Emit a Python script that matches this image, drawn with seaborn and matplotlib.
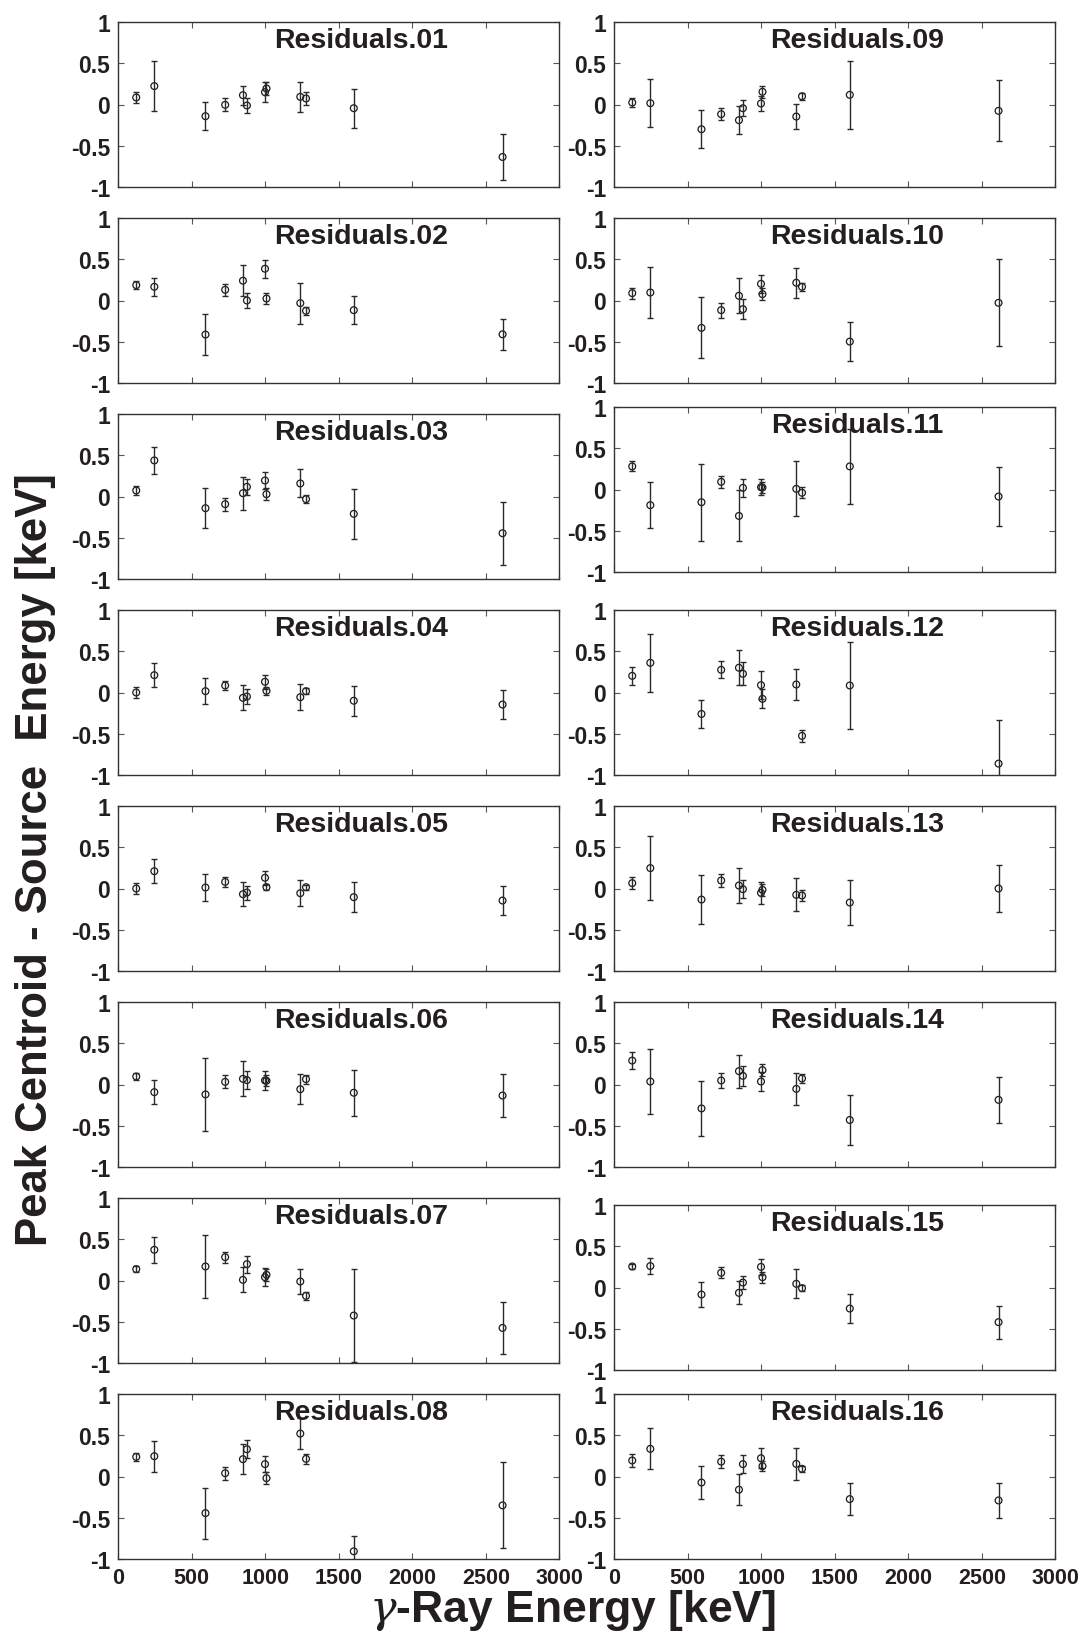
import numpy as np
import pandas as pd
import matplotlib
matplotlib.use("Agg")
import matplotlib.pyplot as plt
import seaborn as sns

# ---------------- data ----------------
energy = [122, 245, 593, 727, 848, 875, 998, 1008, 1238, 1277, 1602, 2614]

res01 = [0.085, 0.223, -0.142, -0.004, 0.113, -0.012, 0.150, 0.194, 0.093, 0.073, -0.045, -0.636]
err01 = [0.070, 0.300, 0.170, 0.080, 0.113, 0.085, 0.120, 0.073, 0.180, 0.073, 0.237, 0.280]
res02 = [0.186, 0.166, -0.413, 0.130, 0.240, 0.000, 0.385, 0.024, -0.032, -0.125, -0.117, -0.410]
err02 = [0.045, 0.110, 0.250, 0.070, 0.190, 0.095, 0.110, 0.070, 0.250, 0.045, 0.170, 0.190]
res03 = [0.073, 0.437, -0.142, -0.093, 0.040, 0.117, 0.194, 0.028, 0.158, -0.032, -0.210, -0.445]
err03 = [0.057, 0.160, 0.240, 0.080, 0.200, 0.100, 0.100, 0.070, 0.170, 0.045, 0.300, 0.380]
res04 = [0.000, 0.210, 0.016, 0.085, -0.065, -0.049, 0.130, 0.020, -0.057, 0.016, -0.100, -0.146]
err04 = [0.070, 0.145, 0.155, 0.057, 0.150, 0.087, 0.087, 0.045, 0.155, 0.035, 0.180, 0.175]
res05 = [0.000, 0.210, 0.012, 0.080, -0.069, -0.049, 0.130, 0.016, -0.057, 0.016, -0.105, -0.146]
err05 = [0.070, 0.145, 0.160, 0.063, 0.146, 0.085, 0.083, 0.040, 0.155, 0.030, 0.180, 0.175]
res06 = [0.097, -0.093, -0.120, 0.032, 0.069, 0.053, 0.049, 0.045, -0.057, 0.065, -0.100, -0.134]
err06 = [0.040, 0.145, 0.440, 0.080, 0.210, 0.107, 0.113, 0.065, 0.185, 0.055, 0.280, 0.260]
res07 = [0.138, 0.372, 0.170, 0.283, 0.008, 0.198, 0.040, 0.069, -0.012, -0.186, -0.425, -0.575]
err07 = [0.040, 0.160, 0.380, 0.065, 0.150, 0.105, 0.110, 0.073, 0.150, 0.045, 0.567, 0.320]
res08 = [0.238, 0.246, -0.444, 0.040, 0.210, 0.330, 0.150, -0.020, 0.520, 0.214, -0.907, -0.350]
err08 = [0.050, 0.190, 0.310, 0.080, 0.183, 0.110, 0.100, 0.073, 0.190, 0.057, 0.190, 0.520]
res09 = [0.024, 0.016, -0.300, -0.117, -0.190, -0.045, 0.012, 0.154, -0.146, 0.100, 0.117, -0.077]
err09 = [0.060, 0.290, 0.230, 0.075, 0.170, 0.100, 0.093, 0.070, 0.150, 0.040, 0.410, 0.370]
res10 = [0.089, 0.097, -0.332, -0.117, 0.057, -0.105, 0.202, 0.077, 0.215, 0.166, -0.498, -0.028]
err10 = [0.065, 0.310, 0.370, 0.090, 0.210, 0.120, 0.110, 0.073, 0.180, 0.045, 0.235, 0.525]
res11 = [0.280, -0.190, -0.154, 0.093, -0.320, 0.020, 0.028, 0.024, 0.008, -0.040, 0.280, -0.085]
err11 = [0.060, 0.275, 0.465, 0.070, 0.310, 0.110, 0.100, 0.070, 0.335, 0.065, 0.450, 0.355]
res12 = [0.202, 0.360, -0.260, 0.275, 0.300, 0.227, 0.089, -0.077, 0.097, -0.526, 0.085, -0.862]
err12 = [0.113, 0.350, 0.170, 0.105, 0.210, 0.137, 0.170, 0.115, 0.190, 0.075, 0.525, 0.525]
res13 = [0.065, 0.247, -0.134, 0.097, 0.036, -0.008, -0.053, -0.016, -0.077, -0.085, -0.170, 0.000]
err13 = [0.077, 0.390, 0.300, 0.080, 0.215, 0.110, 0.130, 0.073, 0.200, 0.065, 0.275, 0.280]
res14 = [0.290, 0.036, -0.290, 0.049, 0.162, 0.105, 0.036, 0.174, -0.053, 0.073, -0.430, -0.186]
err14 = [0.105, 0.390, 0.335, 0.087, 0.200, 0.120, 0.113, 0.070, 0.190, 0.060, 0.300, 0.280]
res15 = [0.255, 0.260, -0.085, 0.178, -0.065, 0.060, 0.250, 0.125, 0.045, -0.008, -0.255, -0.420]
err15 = [0.030, 0.100, 0.147, 0.065, 0.140, 0.080, 0.093, 0.067, 0.176, 0.040, 0.174, 0.200]
res16 = [0.194, 0.335, -0.073, 0.180, -0.160, 0.150, 0.222, 0.125, 0.153, 0.093, -0.274, -0.290]
err16 = [0.073, 0.250, 0.195, 0.075, 0.190, 0.107, 0.120, 0.060, 0.195, 0.040, 0.195, 0.213]

residuals = [res01, res02, res03, res04, res05, res06, res07, res08,
             res09, res10, res11, res12, res13, res14, res15, res16]
errors = [err01, err02, err03, err04, err05, err06, err07, err08,
          err09, err10, err11, err12, err13, err14, err15, err16]
titles = ["Residuals.%02d" % (i + 1) for i in range(16)]
yticks = [-1, -0.5, 0, 0.5, 1]
ytick_labels = ["-1", "-0.5", "0", "0.5", "1"]
xticks = [0, 500, 1000, 1500, 2000, 2500, 3000]

# ---------------- style ----------------
sns.set_theme(style="ticks")
plt.rcParams["font.family"] = ["Liberation Sans", "DejaVu Sans"]
plt.rcParams["axes.unicode_minus"] = False
plt.rcParams["mathtext.fontset"] = "dejavuserif"

TXT = "#231f20"
W, H = 1081, 1640
fig = plt.figure(figsize=(W / 100, H / 100), dpi=100)
fig.patch.set_facecolor("white")

col_left = [118.3, 614.3]
ax_w = 441.0
ax_h = 165.0
pitch = 196.0
row_shift = {10: -7, 14: 7}  # panels 11 and 15 sit slightly off the grid

for k in range(16):
    col = k // 8
    row = k % 8
    top = 23 + pitch * row + row_shift.get(k, 0)
    ax = fig.add_axes([col_left[col] / W, 1 - (top + ax_h) / H, ax_w / W, ax_h / H])
    df = pd.DataFrame({"energy": energy, "res": residuals[k], "err": errors[k]})
    ax.errorbar(df["energy"], df["res"], yerr=df["err"], fmt="none",
                ecolor="#2a2a2a", elinewidth=1.0, capsize=2.0, capthick=1.0)
    sns.scatterplot(data=df, x="energy", y="res", ax=ax, marker="o", s=24,
                    facecolors="none", edgecolor="#1a1a1a", linewidth=0.9, legend=False)
    ax.set_xlim(0, 3000)
    ax.set_ylim(-1, 1)
    ax.set_xticks(xticks)
    ax.set_yticks(yticks)
    ax.set_yticklabels(ytick_labels)
    ax.set_xlabel("")
    ax.set_ylabel("")
    ax.tick_params(direction="in", length=4, width=0.8, color="#555555",
                   top=True, right=True, pad=6, labelcolor=TXT)
    ax.tick_params(axis="y", labelsize=16.5)
    ax.tick_params(axis="x", labelsize=15.5)
    for lab in ax.get_yticklabels() + ax.get_xticklabels():
        lab.set_fontweight("bold")
    if row != 7:
        ax.set_xticklabels([])
    for sp in ax.spines.values():
        sp.set_visible(True)
        sp.set_color("#333333")
        sp.set_linewidth(1.0)
    ax.text(0.55, 0.893, titles[k], transform=ax.transAxes, ha="center", va="center",
            fontsize=20.5, fontweight="bold", color=TXT)

fig.text(0.033, 0.4756, "Peak Centroid - Source  Energy [keV]", rotation=90,
         ha="center", va="center", fontsize=31.5, fontweight="bold", color=TXT)
fig.text(0.530, 1 - 1622 / H, r"$\gamma$-Ray Energy [keV]", ha="center", va="baseline",
         fontsize=32, fontweight="bold", color=TXT)

fig.savefig("out.png", dpi=100, facecolor="white")
